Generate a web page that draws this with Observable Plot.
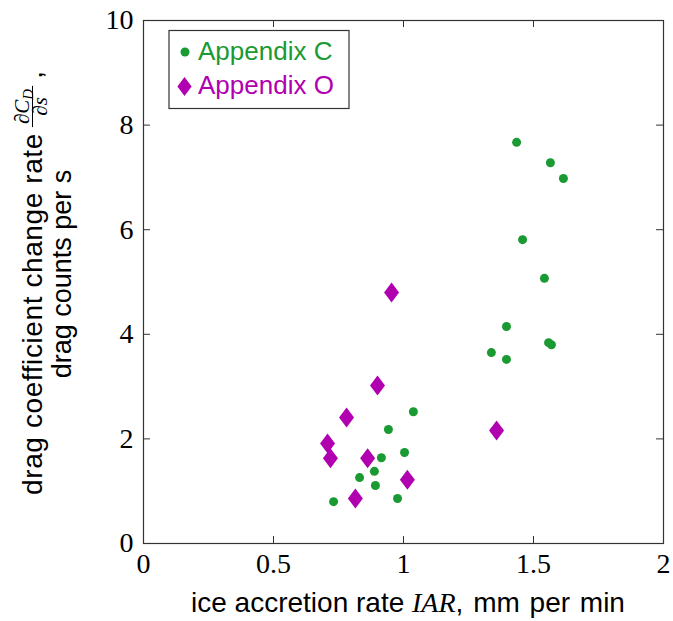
<!DOCTYPE html>
<html>
<head>
<meta charset="utf-8">
<script src="https://cdn.jsdelivr.net/npm/d3@7"></script>
<script src="https://cdn.jsdelivr.net/npm/@observablehq/plot@0.6"></script>
<style>
  html, body { margin: 0; padding: 0; background: #fff; }
  svg { display: block; }
</style>
</head>
<body>
<div id="chart"></div>
<script>
// ---- data ----
const appendixC_iar  = [1.435, 1.565, 1.615, 1.458, 1.542, 1.396, 1.338, 1.396, 1.558, 1.569, 1.038, 0.942, 0.915, 1.004, 0.888, 0.831, 0.892, 0.977, 0.731];
const appendixC_rate = [7.67, 7.28, 6.98, 5.81, 5.07, 4.15, 3.65, 3.52, 3.84, 3.80, 2.52, 2.18, 1.64, 1.74, 1.38, 1.26, 1.11, 0.86, 0.80];
const appendixO_iar  = [0.954, 0.900, 0.781, 0.708, 0.719, 0.862, 1.015, 0.815, 1.358];
const appendixO_rate = [4.80, 3.02, 2.41, 1.91, 1.63, 1.63, 1.22, 0.86, 2.16];
const seriesNames  = ["Appendix C", "Appendix O"];
const seriesColors = ["#1a9a32", "#b000b0"];
const xTicks = [0, 0.5, 1, 1.5, 2];
const yTicks = [0, 2, 4, 6, 8, 10];
const xLabelParts = ["ice accretion rate ", "IAR", ", mm per min"];
const yLabelLine1 = "drag coefficient change rate";
const yLabelLine2 = "drag counts per s";

const dataC = appendixC_iar.map((x, i) => ({x, y: appendixC_rate[i], series: seriesNames[0]}));
const dataO = appendixO_iar.map((x, i) => ({x, y: appendixO_rate[i], series: seriesNames[1]}));

// tall diamond symbol (pgfplots "diamond*")
const tallDiamond = {
  draw(context, size) {
    const h = Math.sqrt(size / Math.PI);
    const w = h * 0.75;
    context.moveTo(0, -h);
    context.lineTo(w, 0);
    context.lineTo(0, h);
    context.lineTo(-w, 0);
    context.closePath();
  }
};

const W = 673, H = 621;
const mL = 143, mR = 10, mT = 20, mB = 78;
const frameW = W - mL - mR, frameH = H - mT - mB;
const tickLen = 7;
const serif = "'Liberation Serif', 'Times New Roman', serif";
const sans = "'Liberation Sans', Arial, Helvetica, sans-serif";
const axisColor = "#333";
const fmt = d => String(d);

const svg = Plot.plot({
  width: W, height: H,
  marginLeft: mL, marginRight: mR, marginTop: mT, marginBottom: mB,
  x: {domain: [0, 2], label: null},
  y: {domain: [0, 10], label: null},
  style: {background: "white", color: "#000", fontFamily: serif, fontSize: "28px", overflow: "visible"},
  marks: [
    Plot.tickX(xTicks.slice(1, -1), {x: d => d, insetTop: frameH - tickLen, stroke: axisColor}),
    Plot.tickX(xTicks.slice(1, -1), {x: d => d, insetBottom: frameH - tickLen, stroke: axisColor}),
    Plot.tickY(yTicks.slice(1, -1), {y: d => d, insetLeft: frameW - tickLen, stroke: axisColor}),
    Plot.tickY(yTicks.slice(1, -1), {y: d => d, insetRight: frameW - tickLen, stroke: axisColor}),
    Plot.axisX({ticks: xTicks, tickFormat: fmt, tickSize: 0, tickPadding: 10, label: null, fontSize: 28, fontFamily: serif, fill: "#000"}),
    Plot.axisY({ticks: yTicks, tickFormat: fmt, tickSize: 0, tickPadding: 10, label: null, fontSize: 28, fontFamily: serif, fill: "#000"}),
    Plot.dot(dataC, {x: "x", y: "y", r: 4.5, fill: seriesColors[0], stroke: null}),
    Plot.dot(dataO, {x: "x", y: "y", r: 10, symbol: tallDiamond, fill: seriesColors[1], stroke: null}),
    Plot.frame({stroke: axisColor, strokeWidth: 1.2})
  ]
});

document.getElementById("chart").appendChild(svg);
const s = d3.select(svg);

// ---- x axis label ----
const xl = s.append("text")
  .attr("x", 408).attr("y", 612)
  .attr("text-anchor", "middle")
  .attr("fill", "#000")
  .style("font-family", sans).style("font-size", "28px");
xl.append("tspan").text(xLabelParts[0]);
xl.append("tspan").style("font-family", serif).style("font-style", "italic").text(xLabelParts[1]);
xl.append("tspan").style("word-spacing", "2px").text(xLabelParts[2]);

// ---- y axis label (two rotated lines, first with a fraction) ----
// line 2
s.append("g").attr("transform", "translate(0,274) rotate(-90)")
  .append("text")
  .attr("x", 0).attr("y", 71)
  .attr("text-anchor", "middle")
  .attr("fill", "#000")
  .style("font-family", sans).style("font-size", "27px")
  .text(yLabelLine2);

// line 1
const g1 = s.append("g").attr("transform", "translate(0,283) rotate(-90)").attr("text-anchor", "start");
const base1 = 42;
const t1 = g1.append("text").attr("y", base1).attr("fill", "#000").attr("text-anchor", "start")
  .style("font-family", sans).style("font-size", "28px").style("letter-spacing", "0.6px").text(yLabelLine1);
const w1 = t1.node().getComputedTextLength();

const num = g1.append("text").attr("y", 29).attr("fill", "#000").attr("text-anchor", "start")
  .style("font-family", serif).style("font-style", "italic").style("font-size", "21px");
num.append("tspan").text("\u2202C");
num.append("tspan").attr("dy", 4).style("font-size", "15px").text("D");
const wn = num.node().getComputedTextLength();
const den = g1.append("text").attr("y", 47).attr("fill", "#000").attr("text-anchor", "start")
  .style("font-family", serif).style("font-style", "italic").style("font-size", "21px")
  .text("\u2202s");
const wd = den.node().getComputedTextLength();
const comma = g1.append("text").attr("y", base1).attr("fill", "#000").attr("text-anchor", "start")
  .style("font-family", sans).style("font-size", "28px").text(",");
const wc = comma.node().getComputedTextLength();

const gap1 = 6, barLen = Math.max(wn, wd) + 6, gap2 = 7;
const total = w1 + gap1 + barLen + gap2 + wc;
const u0 = -total / 2;
t1.attr("x", u0);
const fb = u0 + w1 + gap1;
num.attr("x", fb + (barLen - wn) / 2);
den.attr("x", fb + (barLen - wd) / 2);
g1.append("line").attr("x1", fb).attr("x2", fb + barLen)
  .attr("y1", 32.5).attr("y2", 32.5).attr("stroke", "#000").attr("stroke-width", 1);
comma.attr("x", fb + barLen + gap2);

// ---- legend ----
const lg = s.append("g").attr("text-anchor", "start");
lg.append("rect").attr("x", 169).attr("y", 30.5).attr("width", 180).attr("height", 78)
  .attr("fill", "white").attr("stroke", axisColor).attr("stroke-width", 1.2);
lg.append("circle").attr("cx", 185).attr("cy", 52).attr("r", 4.5).attr("fill", seriesColors[0]);
lg.append("path").attr("transform", "translate(184.5,86.5)")
  .attr("d", d3.symbol(tallDiamond, Math.PI * 9.5 * 9.5)()).attr("fill", seriesColors[1]);
lg.append("text").attr("x", 198).attr("y", 60).attr("fill", seriesColors[0]).attr("text-anchor", "start")
  .style("font-family", sans).style("font-size", "26px").text(seriesNames[0]);
lg.append("text").attr("x", 198).attr("y", 93.5).attr("fill", seriesColors[1]).attr("text-anchor", "start")
  .style("font-family", sans).style("font-size", "26px").text(seriesNames[1]);
</script>
</body>
</html>
